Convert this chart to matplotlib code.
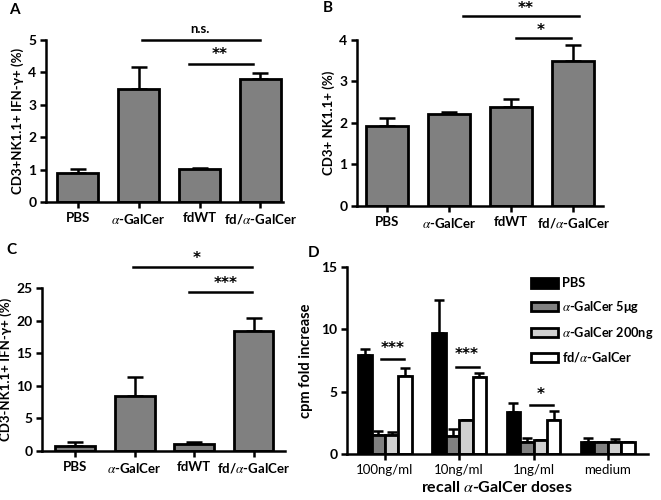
import matplotlib
matplotlib.use("Agg")
import matplotlib.pyplot as plt
from matplotlib.patches import Patch
import numpy as np

plt.rcParams['font.family'] = ['Lato', 'DejaVu Sans']
plt.rcParams['mathtext.fontset'] = 'stix'

groups = ['PBS', r'$\alpha$-GalCer', 'fdWT', r'fd/$\alpha$-GalCer']

a_mean = [0.9, 3.48, 1.01, 3.79]
a_err = [0.11, 0.70, 0.05, 0.18]

b_mean = [1.93, 2.21, 2.39, 3.50]
b_err = [0.18, 0.05, 0.19, 0.38]

c_mean = [0.82, 8.5, 1.07, 18.4]
c_err = [0.5, 2.9, 0.26, 2.0]

doses = ['100ng/ml', '10ng/ml', '1ng/ml', 'medium']
d_names = ['PBS', r'$\alpha$-GalCer 5μg', r'$\alpha$-GalCer 200ng', r'fd/$\alpha$-GalCer']
d_colors = ['black', '#808080', '#d0d0d0', 'white']
d_mean = [[7.96, 9.7, 3.34, 1.0],
          [1.55, 1.47, 1.0, 1.0],
          [1.55, 2.7, 1.1, 1.0],
          [6.28, 6.17, 2.75, 1.0]]
d_err = [[0.48, 2.67, 0.76, 0.28],
         [0.26, 0.56, 0.28, 0.0],
         [0.25, 0.0, 0.05, 0.2],
         [0.62, 0.33, 0.67, 0.0]]

W, H = 661, 500
fig = plt.figure(figsize=(W / 100, H / 100), dpi=100)

STAR = dict(fontsize=11, fontweight='bold', family='DejaVu Sans')
FS = 9.5


def px_axes(left, right, top, bottom):
    return fig.add_axes([left / W, 1 - bottom / H, (right - left) / W, (bottom - top) / H])


def style(ax):
    for s in ['top', 'right']:
        ax.spines[s].set_visible(False)
    for s in ['left', 'bottom']:
        ax.spines[s].set_linewidth(1.8)
    ax.tick_params(direction='out', length=4, width=1.8, pad=3)


def bar_panel(ax, mean, err, ylim, yticks, ylabel, sigs, xlim):
    x = np.arange(len(mean))
    ax.errorbar(x, mean, yerr=[np.zeros(len(err)), err], fmt='none', ecolor='black',
                elinewidth=1.8, capsize=6, capthick=1.8, zorder=1)
    ax.bar(x, mean, width=0.67, color='#808080', edgecolor='black', linewidth=2.0, zorder=2)
    style(ax)
    ax.set_xlim(*xlim)
    ax.set_ylim(*ylim)
    ax.set_yticks(yticks)
    ax.set_xticks(x)
    ax.set_xticklabels(groups, fontsize=FS, fontweight='bold')
    for t in ax.get_yticklabels():
        t.set_fontsize(FS + 0.5)
        t.set_fontweight('bold')
    ax.set_ylabel(ylabel, fontsize=9.5, fontweight='bold', labelpad=3)
    for x0, x1, yl, txt, tx, ty in sigs:
        ax.plot([x0, x1], [yl, yl], color='black', lw=1.8, clip_on=False)
        if txt == 'n.s.':
            ax.text(tx, ty, txt, ha='center', va='center', fontsize=FS, fontweight='bold')
        else:
            ax.text(tx, ty, txt, ha='center', va='center', **STAR)


# Panel A
axA = px_axes(46, 283, 40, 202)
bar_panel(axA, a_mean, a_err, (0, 5), range(0, 6), 'CD3+NK1.1+ IFN-γ+ (%)',
          [(1.06, 3.0, 5.0, 'n.s.', 2.0, 5.35), (1.83, 2.87, 4.26, '**', 2.33, 4.55)],
          (-0.52, 3.37))

# Panel B
axB = px_axes(357, 603, 40, 206)
bar_panel(axB, b_mean, b_err, (0, 4), range(0, 5), 'CD3+ NK1.1+ (%)',
          [(1.22, 3.09, 4.59, '**', 2.23, 4.76), (2.08, 2.96, 4.04, '*', 2.48, 4.23)],
          (-0.48, 3.48))

# Panel C
axC = px_axes(42, 285, 288, 451)
bar_panel(axC, c_mean, c_err, (0, 25), range(0, 26, 5), 'CD3-NK1.1+ IFN-γ+ (%)',
          [(0.97, 2.98, 28.2, '*', 2.04, 29.5), (1.91, 2.98, 24.4, '***', 2.53, 25.7)],
          (-0.56, 3.53))

# Panel D
axD = px_axes(347, 648, 267, 454)
xg = np.arange(len(doses))
w = 0.18
for i in range(4):
    xi = xg + (i - 1.5) * w
    axD.errorbar(xi, d_mean[i], yerr=[np.zeros(4), d_err[i]], fmt='none', ecolor='black',
                 elinewidth=1.8, capsize=3.5, capthick=1.8, zorder=1)
    axD.bar(xi, d_mean[i], width=w, color=d_colors[i], edgecolor='black', linewidth=2.0,
            zorder=2, label=d_names[i])
style(axD)
axD.set_xlim(-0.51, 3.54)
axD.set_ylim(0, 15)
axD.set_yticks([0, 5, 10, 15])
axD.set_xticks(xg)
axD.set_xticklabels(doses, fontsize=FS)
for t in axD.get_yticklabels():
    t.set_fontsize(FS + 0.5)
    t.set_fontweight('bold')
axD.set_ylabel('cpm fold increase', fontsize=10.5, fontweight='bold', labelpad=6)
axD.set_xlabel(r'recall $\alpha$-GalCer doses', fontsize=11.5, fontweight='bold', labelpad=3)
for g, yl, ty, txt in [(0, 7.64, 8.5, '***'), (1, 7.0, 7.95, '***'), (2, 3.9, 4.75, '*')]:
    axD.plot([g - 0.05, g + 0.26], [yl, yl], color='black', lw=1.8)
    axD.text(g + 0.1, ty, txt, ha='center', va='center', **STAR)
handles = [Patch(facecolor=c, edgecolor='black', linewidth=2.0) for c in d_colors]
axD.legend(handles, d_names, loc='upper left', bbox_to_anchor=(0.585, 0.985), frameon=False,
           prop={'size': 9.2, 'weight': 'bold'}, handlelength=2.1, handleheight=0.75,
           labelspacing=0.75, handletextpad=0.35, borderaxespad=0.2)

for lab, x, y in [('A', 9, 10), ('B', 323, 8), ('C', 6, 250), ('D', 308, 253)]:
    fig.text(x / W, 1 - y / H, lab, fontsize=11, fontweight='bold', ha='left', va='center')

fig.savefig('out.png', dpi=100)
